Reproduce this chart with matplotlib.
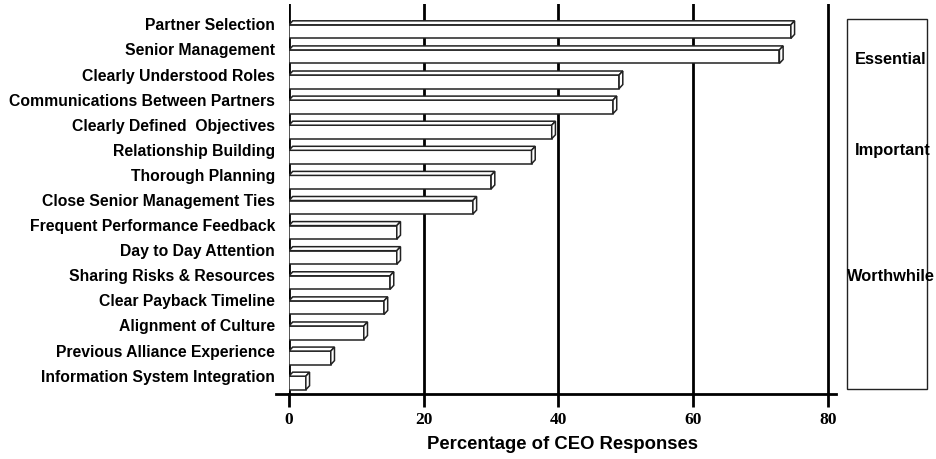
import numpy as np
import matplotlib
matplotlib.use('Agg')
import matplotlib.pyplot as plt
from matplotlib.patches import Polygon, Rectangle

categories = ['Partner Selection', 'Senior Management', 'Clearly Understood Roles',
              'Communications Between Partners', 'Clearly Defined  Objectives',
              'Relationship Building', 'Thorough Planning', 'Close Senior Management Ties',
              'Frequent Performance Feedback', 'Day to Day Attention',
              'Sharing Risks & Resources', 'Clear Payback Timeline',
              'Alignment of Culture', 'Previous Alliance Experience',
              'Information System Integration']
values = [74.5, 72.8, 49.0, 48.1, 39.0, 36.0, 30.0, 27.3, 16.0, 16.0, 15.0, 14.1, 11.1, 6.2, 2.5]
xticks = [0, 20, 40, 60, 80]
levels = ['Essential', 'Important', 'Worthwhile']

W, H = 936, 460
fig = plt.figure(figsize=(W / 100, H / 100), dpi=100)
ax = fig.add_axes([289 / W, 1 - 395 / H, (836 - 289) / W, (395 - 5) / H])

n = len(categories)
ypos = np.arange(n)[::-1]
bh = 0.54
dx, dy = 0.55, 0.16

ax.set_xlim(0, 81.2)
ax.set_ylim(-0.44, n - 1 + 1.1)

for x in xticks[1:]:
    ax.axvline(x, color='black', lw=2, zorder=1)
ax.axvline(0, color='black', lw=2, zorder=1)
# axis line runs a little past the zero line on the left
ax.plot([-2, 0], [-0.44, -0.44], color='black', lw=2, clip_on=False, zorder=1)

ax.barh(ypos, values, height=bh, left=0, color='white', edgecolor='#222222',
        lw=1.1, zorder=3)
for y, v in zip(ypos, values):
    top = [(0, y + bh / 2), (dx, y + bh / 2 + dy), (v + dx, y + bh / 2 + dy), (v, y + bh / 2)]
    side = [(v, y + bh / 2), (v + dx, y + bh / 2 + dy), (v + dx, y - bh / 2 + dy), (v, y - bh / 2)]
    for pts in (top, side):
        ax.add_patch(Polygon(pts, closed=True, facecolor='white', edgecolor='#222222',
                             lw=1.1, zorder=3))

for s in ['top', 'right', 'left']:
    ax.spines[s].set_visible(False)
ax.spines['bottom'].set_linewidth(2)

ax.set_xticks(xticks)
ax.set_xticklabels([str(t) for t in xticks], fontfamily='Liberation Serif',
                   fontweight='bold', fontsize=12.5)
ax.tick_params(axis='x', direction='out', length=9, width=2, pad=3)
ax.set_yticks(ypos + 0.33)
ax.set_yticklabels(categories, fontfamily='Liberation Sans', fontweight='bold', fontsize=11.3)
ax.tick_params(axis='y', length=0, pad=10)

ax.set_xlabel('Percentage of CEO Responses', fontfamily='Liberation Sans',
              fontweight='bold', fontsize=13.3, labelpad=6)

fig.add_artist(Rectangle((847 / W, 1 - 390 / H), 80 / W, 370 / H, transform=fig.transFigure,
                         fill=False, edgecolor='#222222', lw=1))
for lab, (px, py) in zip(levels, [(891, 60), (893, 150), (891, 277)]):
    fig.text(px / W, 1 - py / H, lab, ha='center', va='center', fontfamily='Liberation Sans',
             fontweight='bold', fontsize=11.8)

fig.savefig('out.png', dpi=100)
